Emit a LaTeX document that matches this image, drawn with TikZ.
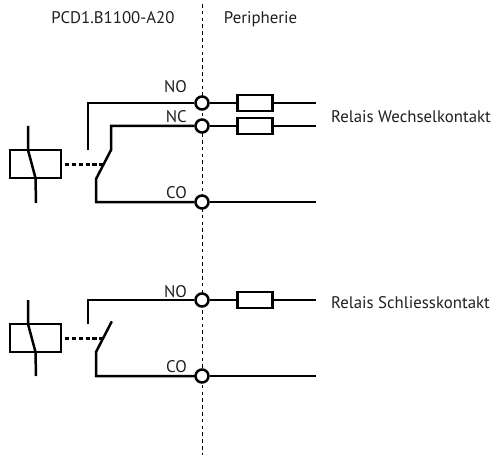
\documentclass[tikz,border=0pt]{standalone}
\usepackage{fontspec}
\setmainfont{PT Sans}
\tikzset{
  wire/.style={line width=2.5pt,line join=miter},
  linkdash/.style={line width=3pt,dash pattern=on 4.2pt off 2.6pt},
  axis/.style={line width=0.95pt,dash pattern=on 3.6pt off 3.2pt},
  term/.style={circle,draw,fill=white,line width=2.5pt,minimum size=13pt,inner sep=0pt},
  fuse/.style={rectangle,draw,fill=white,line width=2.5pt,minimum width=35pt,minimum height=16pt,inner sep=0pt},
  coil/.style={rectangle,draw,line width=2.5pt,minimum width=51pt,minimum height=28pt,inner sep=0pt},
  lab/.style={inner sep=0pt,font=\fontsize{16.8pt}{18pt}\selectfont,text=black!88,anchor=base},
  tag/.style={lab,anchor=base east}
}
\begin{document}
\begin{tikzpicture}[x=1pt,y=-1pt]
\useasboundingbox (0,0) rectangle (494,457);
\coordinate (top) at (202.3,4);
\coordinate (bot) at (202.3,455);
\draw[axis] (top) -- (bot);
% terminals
\node[term] (t1) at (202,103) {};
\node[term] (t2) at (202,126) {};
\node[term] (t3) at (202,202) {};
\node[term] (t4) at (202,300) {};
\node[term] (t5) at (202,376) {};
% fuses
\node[fuse] (f1) at (255,103) {};
\node[fuse] (f2) at (255,126) {};
\node[fuse] (f4) at (255,300) {};
% free ends
\coordinate (e1) at (316,103);
\coordinate (e2) at (316,126);
\coordinate (e3) at (316,202);
\coordinate (e4) at (316,300);
\coordinate (e5) at (316,376);
\draw[wire] (t1) -- (f1) (f1) -- (e1);
\draw[wire] (t2) -- (f2) (f2) -- (e2);
\draw[wire] (t3) -- (e3);
\draw[wire] (t4) -- (f4) (f4) -- (e4);
\draw[wire] (t5) -- (e5);
% upper relay
\node[coil] (c1) at (35.5,164) {};
\coordinate (c1a) at (28,126);
\coordinate (c1b) at (28,150);
\coordinate (c1c) at (35.5,178);
\coordinate (c1d) at (36,203);
\draw[wire] (c1a) -- (c1b) -- (c1c) -- (c1d);
\coordinate (no1) at (88,150);
\coordinate (sw1) at (111,150);
\coordinate (pv1) at (96,179);
\draw[wire] (no1) |- (t1);
\draw[wire] (t2) -| (sw1) -- (pv1) |- (t3);
\coordinate (lk1) at (103,164);
\draw[linkdash] (c1.east) ++(3,0) -- (lk1);
% lower relay
\node[coil] (c2) at (35.5,338) {};
\coordinate (c2a) at (28,300);
\coordinate (c2b) at (28,324);
\coordinate (c2c) at (35.5,352);
\coordinate (c2d) at (36,376);
\draw[wire] (c2a) -- (c2b) -- (c2c) -- (c2d);
\coordinate (no2) at (88,324);
\coordinate (sw2) at (111.5,322);
\coordinate (pv2) at (96,352);
\draw[wire] (no2) |- (t4);
\draw[wire,line cap=round] (sw2) -- (pv2) |- (t5);
\coordinate (lk2) at (103,338);
\draw[linkdash] (c2.east) ++(3,0) -- (lk2);
% labels
\node[lab] (h1) at (113,23.5) {PCD1.B1100-A20};
\node[lab] (h2) at (260.5,23.5) {Peripherie};
\node[tag] (n1) at (187,93) {NO};
\node[tag] (n2) at (187,123) {NC};
\node[tag] (n3) at (187,198) {CO};
\node[tag] (n4) at (187,297) {NO};
\node[tag] (n5) at (187,372) {CO};
\node[lab,anchor=base west] (r1) at (331,123) {Relais Wechselkontakt};
\node[lab,anchor=base west] (r2) at (331,308) {Relais Schliesskontakt};
\end{tikzpicture}
\end{document}
